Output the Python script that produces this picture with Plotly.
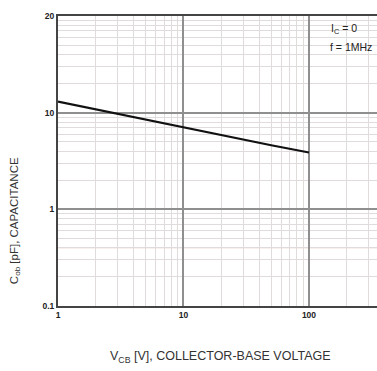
import plotly.graph_objects as go

# Data
vcb = [1, 2, 5, 10, 20, 50, 100]
cob = [13.0, 10.8, 8.4, 7.0, 5.85, 4.6, 3.87]

x_tickvals = [1, 10, 100]
x_ticktext = ["1", "10", "100"]
y_tickvals = [0.1, 1, 10, 100]
y_ticktext = ["0.1", "1", "10", "20"]

FONT = "Liberation Sans"
MAJOR = "#8f8f8f"
MINOR = "#e0dcdc"
AXIS = "#444444"

minor_x = [m * d for d in [1, 10, 100, 1000] for m in range(2, 10)]
minor_y = [m * d for d in [0.1, 1, 10] for m in range(2, 10)]

fig = go.Figure()
fig.add_trace(go.Scatter(x=vcb, y=cob, mode="lines",
                         line=dict(color="#111111", width=2.2),
                         showlegend=False, hoverinfo="skip"))

fig.update_layout(
    width=377, height=371,
    margin=dict(l=58, r=0, t=16, b=65),
    paper_bgcolor="white", plot_bgcolor="white",
    font=dict(family=FONT, color="#222222"),
)

fig.update_xaxes(
    type="log", range=[0, 2.542],
    tickvals=x_tickvals, ticktext=x_ticktext,
    tickfont=dict(size=8.5, family=FONT, weight="bold", color="#222"),
    showgrid=True, gridcolor=MAJOR, gridwidth=1.5,
    minor=dict(tickvals=minor_x, showgrid=True, gridcolor=MINOR, gridwidth=1, ticks=""),
    showline=True, linecolor=AXIS, linewidth=2, mirror=True,
    ticks="", ticklen=0, zeroline=False,
)
fig.update_yaxes(
    type="log", range=[-1, 2],
    tickvals=y_tickvals, ticktext=y_ticktext,
    tickfont=dict(size=8.5, family=FONT, weight="bold", color="#222"),
    showgrid=True, gridcolor=MAJOR, gridwidth=1.5,
    minor=dict(tickvals=minor_y, showgrid=True, gridcolor=MINOR, gridwidth=1, ticks=""),
    showline=True, linecolor=AXIS, linewidth=2, mirror=False,
    ticks="", ticklen=0, zeroline=False,
)

# faint reddish gridline seen in the reference
fig.add_shape(type="line", xref="paper", x0=0, x1=1, yref="y", y0=0.4, y1=0.4,
              line=dict(color="#efc8c8", width=1), layer="below")

fig.add_annotation(text="I<sub>C</sub> = 0", xref="paper", yref="paper",
                   x=0.85, y=0.955, xanchor="left", yanchor="middle",
                   showarrow=False, font=dict(size=10.5, family=FONT, color="#222"))
fig.add_annotation(text="f = 1MHz", xref="paper", yref="paper",
                   x=0.845, y=0.893, xanchor="left", yanchor="middle",
                   showarrow=False, font=dict(size=10.5, family=FONT, color="#222"))

fig.add_annotation(text="C<sub>ob</sub> [pF], CAPACITANCE", xref="paper", yref="paper",
                   x=-0.135, y=0.07, xanchor="center", yanchor="bottom", textangle=-90,
                   showarrow=False, font=dict(size=11.5, family=FONT, color="#333"))
fig.add_annotation(text="V<sub>CB</sub> [V], COLLECTOR-BASE VOLTAGE", xref="paper", yref="paper",
                   x=0.508, y=-0.14, xanchor="center", yanchor="top",
                   showarrow=False, font=dict(size=12.5, family=FONT, color="#333"))

fig.write_html("out.html", config={"displayModeBar": False},
               post_script="document.body.style.margin='0';")
